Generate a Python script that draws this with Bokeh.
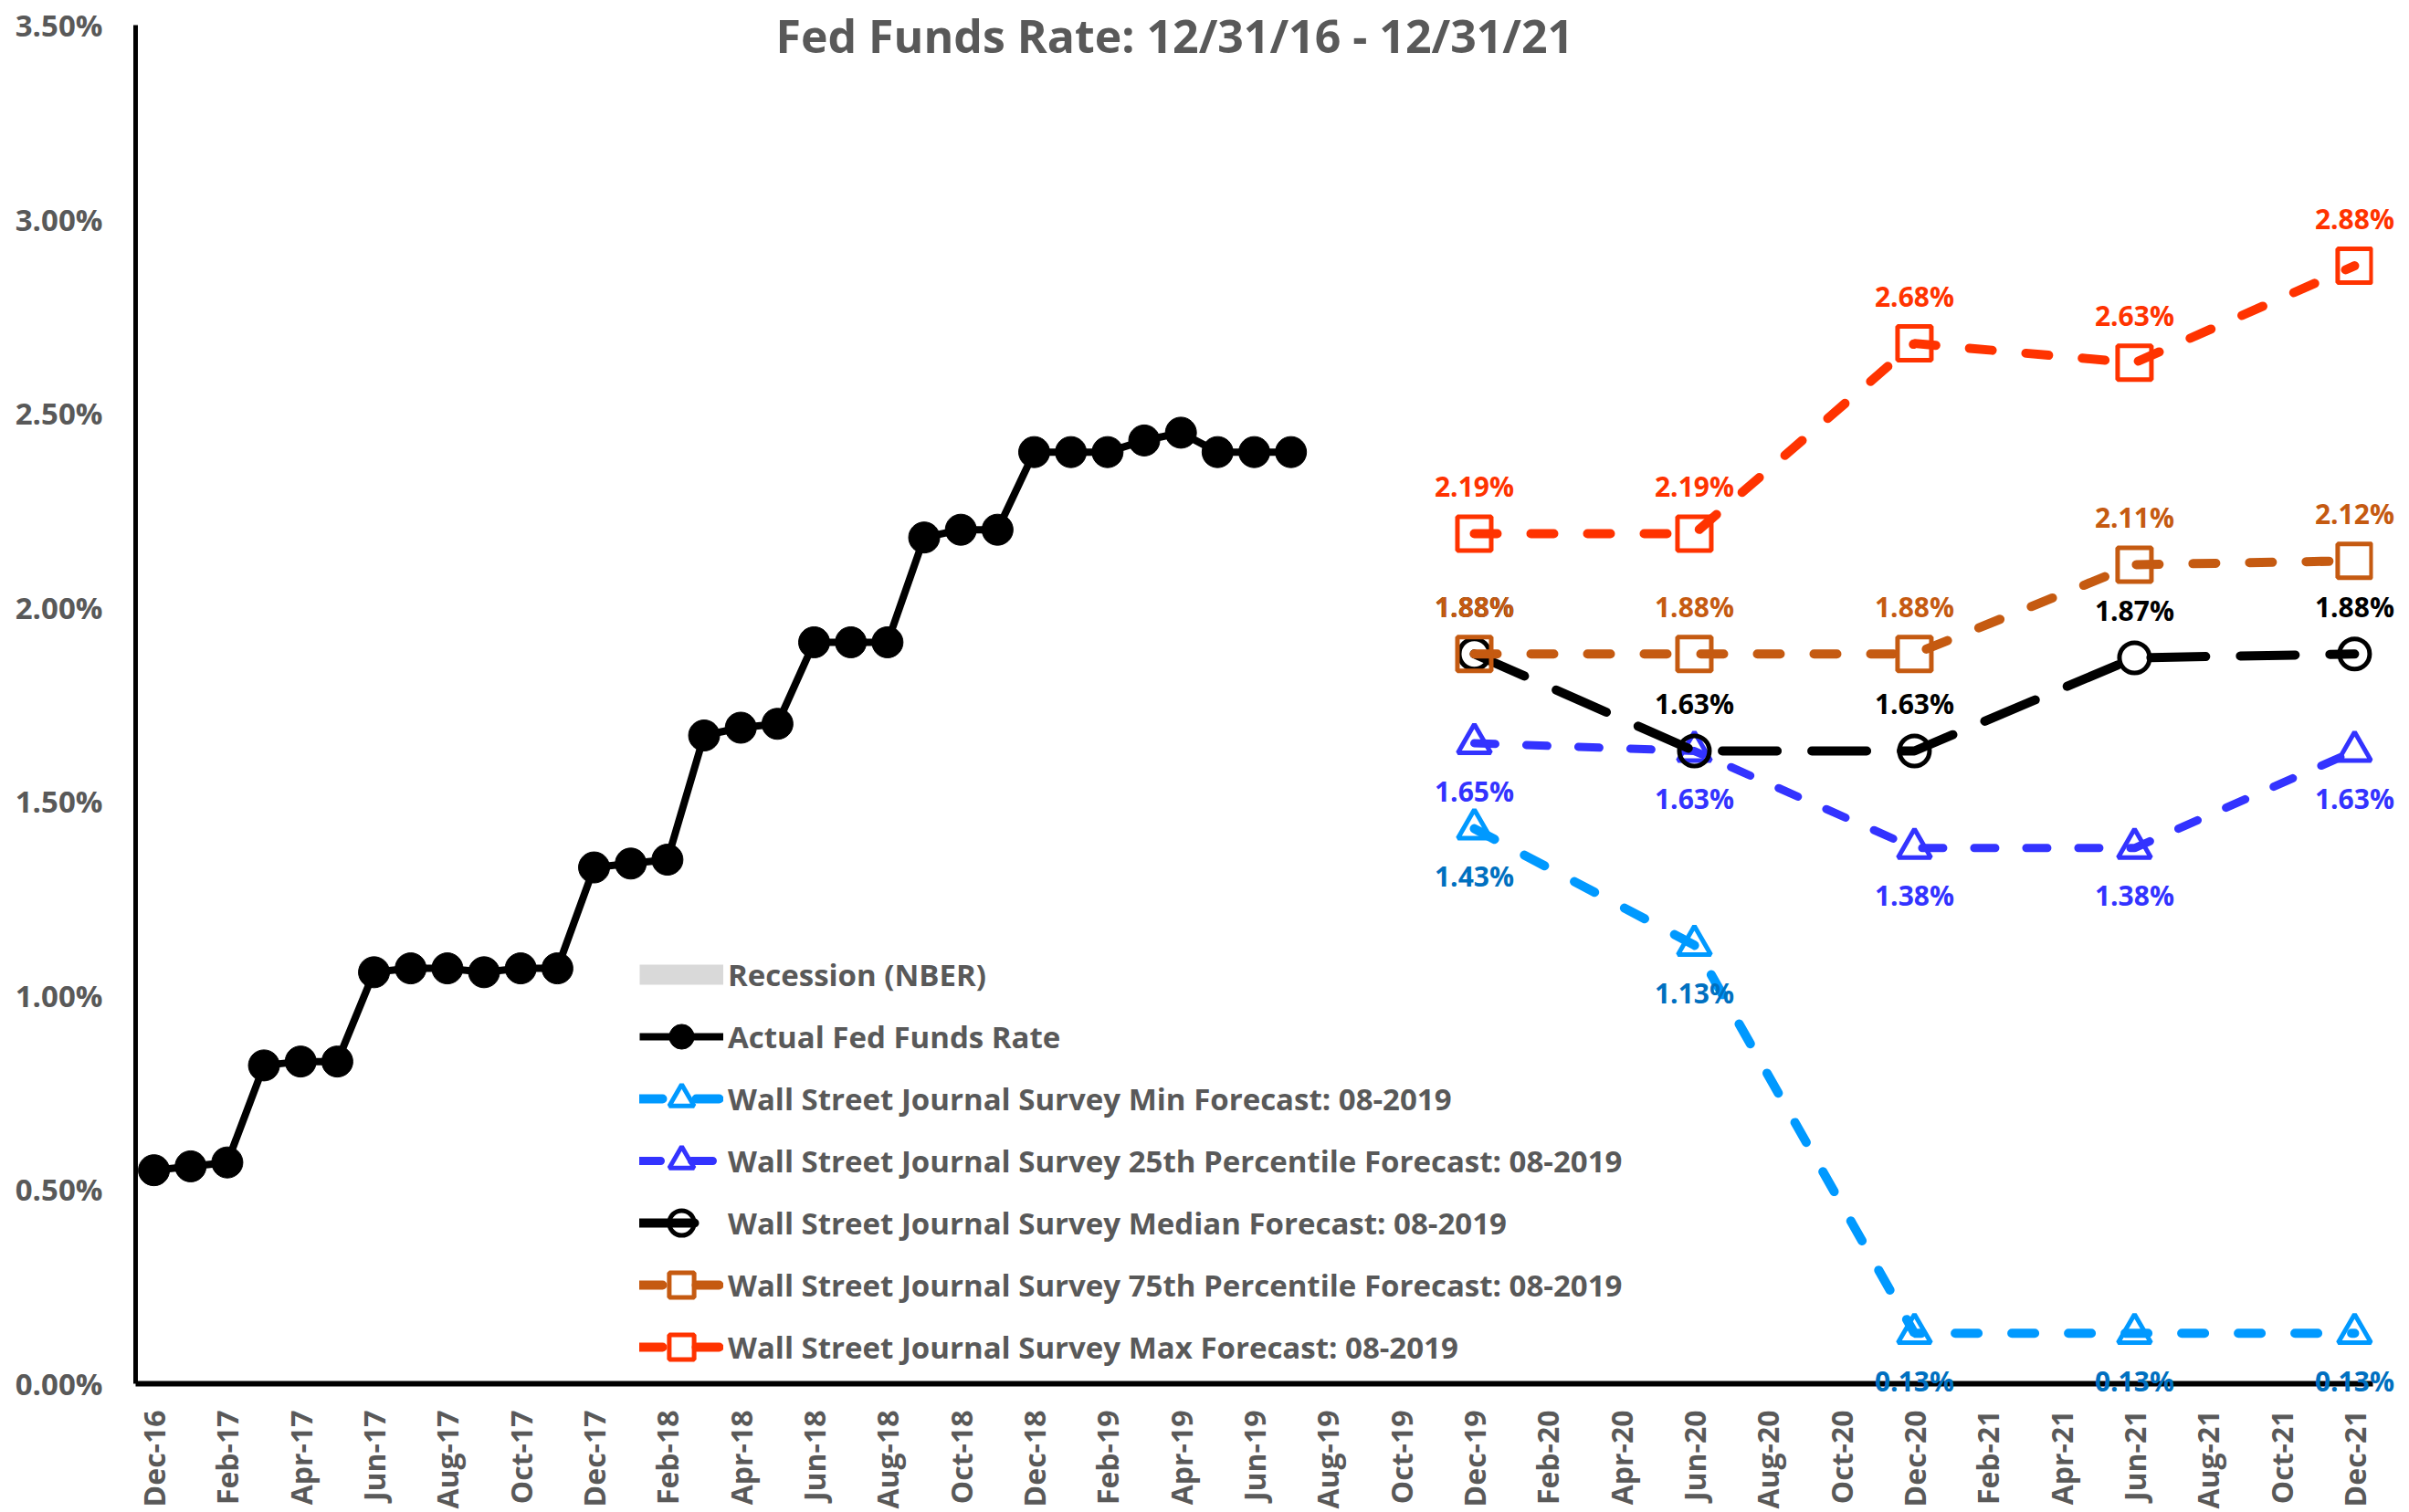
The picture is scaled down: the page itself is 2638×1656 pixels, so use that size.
import math
import pandas as pd
from bokeh.plotting import figure
from bokeh.models import (FixedTicker, PrintfTickFormatter, Legend, LegendItem,
                          Range1d)
from bokeh.core.properties import value
from bokeh.embed import file_html
from bokeh.resources import INLINE

# ---------------- data ----------------
tick_labels = ["Dec-16", "Feb-17", "Apr-17", "Jun-17", "Aug-17", "Oct-17",
               "Dec-17", "Feb-18", "Apr-18", "Jun-18", "Aug-18", "Oct-18",
               "Dec-18", "Feb-19", "Apr-19", "Jun-19", "Aug-19", "Oct-19",
               "Dec-19", "Feb-20", "Apr-20", "Jun-20", "Aug-20", "Oct-20",
               "Dec-20", "Feb-21", "Apr-21", "Jun-21", "Aug-21", "Oct-21",
               "Dec-21"]
y_ticks = [0, 0.5, 1.0, 1.5, 2.0, 2.5, 3.0, 3.5]

# actual fed funds rate, monthly from Dec-16 to Jul-19 (%)
actual_start = "Dec-16"
actual_rate = [0.55, 0.56, 0.57, 0.82, 0.83, 0.83, 1.06, 1.07, 1.07, 1.06,
               1.07, 1.07, 1.33, 1.34, 1.35, 1.67, 1.69, 1.70, 1.91, 1.91,
               1.91, 2.18, 2.20, 2.20, 2.40, 2.40, 2.40, 2.43, 2.45, 2.40,
               2.40, 2.40]

forecast_dates = ["Dec-19", "Jun-20", "Dec-20", "Jun-21", "Dec-21"]
wsj_min = [1.43, 1.13, 0.13, 0.13, 0.13]
wsj_p25 = [1.65, 1.63, 1.38, 1.38, 1.63]
wsj_median = [1.88, 1.63, 1.63, 1.87, 1.88]
wsj_p75 = [1.88, 1.88, 1.88, 2.11, 2.12]
wsj_max = [2.19, 2.19, 2.68, 2.63, 2.88]

# no NBER recession inside the window: placeholder (legend entry only)
recession_x = [float("nan")]
recession_y = [float("nan")]

title_text = "Fed Funds Rate: 12/31/16 - 12/31/21"

# month axis (months mapped to integer positions)
months = pd.date_range("2016-12-01", "2021-12-01", freq="MS").strftime("%b-%y").tolist()
pos = {m: i for i, m in enumerate(months)}
actual_x = list(range(pos[actual_start], pos[actual_start] + len(actual_rate)))
fc_x = [pos[d] for d in forecast_dates]

FONT = "Open Sans"
GRAY = "#595959"

# the frame reaches a little above the 3.5% line so the title sits inside it
PX_PER_UNIT = 1488 / 3.5
Y_TOP = 3.5 + 21 / PX_PER_UNIT

p = figure(frame_width=2450, frame_height=1509,
           x_range=Range1d(-0.5, len(months) - 0.5), y_range=Range1d(0, Y_TOP),
           output_backend="svg", toolbar_location=None,
           min_border_left=148, min_border_top=6, min_border_right=30,
           min_border_bottom=138)
p.outline_line_color = None
p.grid.visible = False
p.background_fill_color = "white"
p.border_fill_color = "white"

# axes
p.xaxis.ticker = FixedTicker(ticks=[pos[t] for t in tick_labels])
p.xaxis.major_label_overrides = {pos[t]: t for t in tick_labels}
p.xaxis.major_label_orientation = math.pi / 2
p.yaxis.ticker = FixedTicker(ticks=y_ticks)
p.yaxis.formatter = PrintfTickFormatter(format="%.2f%%")
p.yaxis.bounds = (y_ticks[0], y_ticks[-1])
for ax in (p.xaxis[0], p.yaxis[0]):
    ax.major_tick_in = 0
    ax.major_tick_out = 0
    ax.minor_tick_in = 0
    ax.minor_tick_out = 0
    ax.axis_line_color = "black"
    ax.major_label_text_font = FONT
    ax.major_label_text_font_style = "bold"
    ax.major_label_text_color = GRAY
p.xaxis.axis_line_width = 6
p.yaxis.axis_line_width = 5
p.xaxis.major_label_text_font_size = "32px"
p.yaxis.major_label_text_font_size = "33px"
p.xaxis.major_label_standoff = 29
p.yaxis.major_label_standoff = 36

# recession (legend entry only)
rec = p.line(recession_x, recession_y, line_color="#D9D9D9", line_width=22,
             line_cap="butt")

# actual
act_l = p.line(actual_x, actual_rate, line_color="black", line_width=8)
act_s = p.scatter(actual_x, actual_rate, marker="circle", size=34,
                  fill_color="black", line_color="black")

series = [
    ("Wall Street Journal Survey Min Forecast: 08-2019", wsj_min, "#0099FF",
     "#0070C0", "triangle", 36, "25 37", 10, 1),
    ("Wall Street Journal Survey 25th Percentile Forecast: 08-2019", wsj_p25,
     "#3333FF", "#3333FF", "triangle", 36, "23 34", 9, 1),
    ("Wall Street Journal Survey Median Forecast: 08-2019", wsj_median, "black",
     "black", "circle", 33, "60 38", 10, -1),
    ("Wall Street Journal Survey 75th Percentile Forecast: 08-2019", wsj_p75,
     "#C55A11", "#C55A11", "square", 37, "25 37", 10, -1),
    ("Wall Street Journal Survey Max Forecast: 08-2019", wsj_max, "#FF3300",
     "#FF3300", "square", 37, "25 37", 10, -1),
]

items = [LegendItem(label="Recession (NBER)", renderers=[rec]),
         LegendItem(label="Actual Fed Funds Rate", renderers=[act_l, act_s])]
for name, vals, col, lcol, mk, sz, dash, lw, side in series:
    l = p.line(fc_x, vals, line_color=col, line_width=lw, line_dash=dash,
               line_cap="round")
    s = p.scatter(fc_x, vals, marker=mk, size=sz, fill_color=None,
                  line_color=col, line_width=5)
    items.append(LegendItem(label=name, renderers=[l, s]))
    p.text(fc_x, vals, text=[f"{v:.2f}%" for v in vals], text_align="center",
           text_baseline="middle", y_offset=52 * side,
           text_font=value(FONT), text_font_style="bold",
           text_font_size="30px", text_color=lcol, level="annotation")

legend = Legend(items=items, location=(552, 6), glyph_width=92,
                glyph_height=68, spacing=0, padding=0, margin=0,
                label_standoff=5, border_line_alpha=0,
                background_fill_alpha=0, label_text_font=FONT,
                label_text_font_style="bold", label_text_font_size="33px",
                label_text_color=GRAY)
p.add_layout(legend)

# chart title, overlapping the top of the plot area
p.text(x=[27.83], y=[3.474], text=[title_text], text_align="center",
       text_baseline="middle", text_font=value(FONT), text_font_style="bold",
       text_font_size="50px", text_color=GRAY, level="annotation")

open("out.html", "w").write(file_html(p, INLINE))
